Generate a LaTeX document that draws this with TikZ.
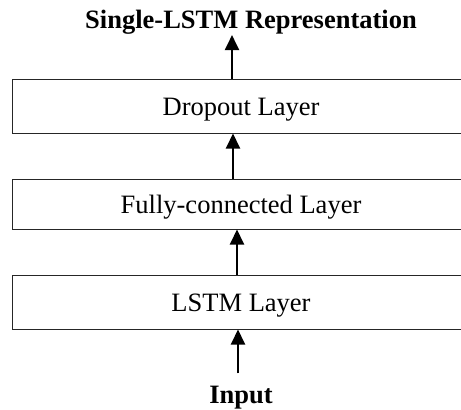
\documentclass[tikz,border=0pt]{standalone}
\usepackage{fontspec}
\setmainfont{Liberation Serif}
\usetikzlibrary{arrows.meta}
\begin{document}
\begin{tikzpicture}[x=1pt,y=-1pt,
  layer/.style={draw=black!85, line width=1pt, minimum width=457pt, inner sep=0pt,
    text height=19pt, text depth=0pt, font=\fontsize{26.5}{30}\selectfont},
  lbl/.style={font=\fontsize{26.5}{30}\selectfont\bfseries, inner sep=1pt},
  arr/.style={-{Triangle[length=15pt,width=14pt]}, line width=2pt}]
\useasboundingbox (0,0) rectangle (461,410);

% stacked layers
\node[layer, minimum height=54pt] (drop) at (241,106) {Dropout Layer};
\node[layer, minimum height=50pt] (fc)   at (241,204) {Fully-connected Layer};
\node[layer, minimum height=54pt] (lstm) at (241,302) {LSTM Layer};

% input and output labels
\node[lbl, anchor=base] (title) at (251,28) {Single-LSTM Representation};
\node[lbl, anchor=base] (input) at (241,403) {Input};

% data flow
\draw[arr, shorten <=11pt] (input.north -| 238,0) -- (lstm.south -| 238,0);
\draw[arr] (lstm.north -| 237,0) -- (fc.south -| 237,0);
\draw[arr] (fc.north -| 233,0) -- (drop.south -| 233,0);
\draw[arr] (drop.north -| 232,0) -- (title.south -| 232,0);
\end{tikzpicture}
\end{document}
